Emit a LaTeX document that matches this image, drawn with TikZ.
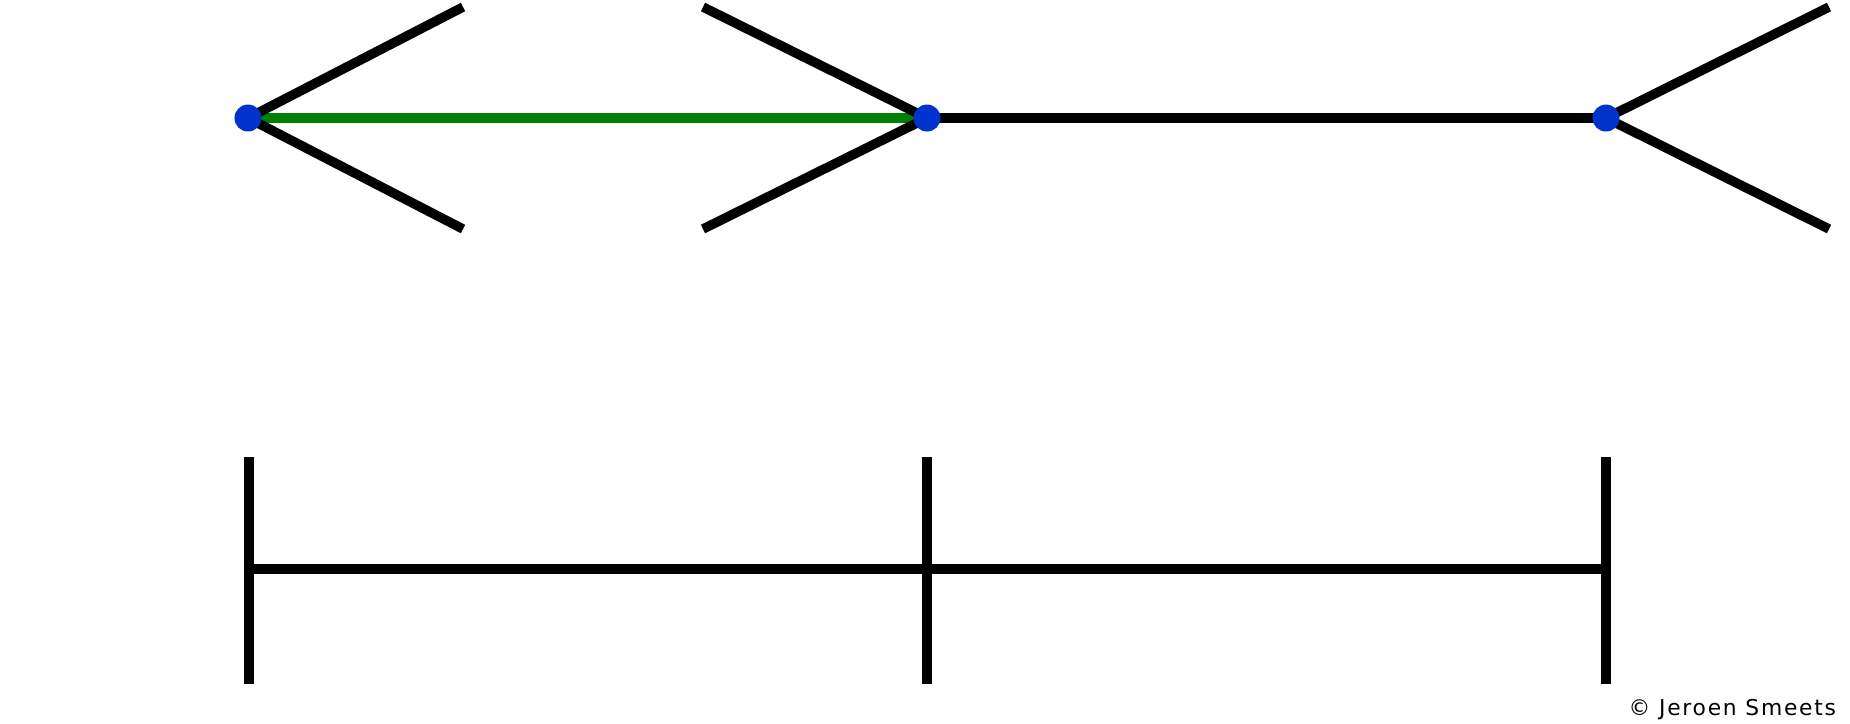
\documentclass[tikz,border=0pt]{standalone}
\usepackage{fontspec}
\usetikzlibrary{backgrounds}
\newfontfamily\creditfont[LetterSpace=8]{DejaVu Sans}
\definecolor{dotblue}{RGB}{0,51,204}
\definecolor{seggreen}{RGB}{0,128,0}

\begin{document}
\begin{tikzpicture}
[x=0.01cm,y=-0.01cm,%
  seg/.style={line width=0.095cm},%
  dot/.style={shape=circle,fill=dotblue,inner sep=0pt,minimum size=0.27cm},%
  credit/.style={anchor=base west,inner sep=0pt,font=\creditfont\fontsize{6.2}{7}\selectfont}]
\useasboundingbox (0,0) rectangle (1850,723);
% top row
\node[dot] (a) at (248,118) {};
\node[dot] (b) at (927,118) {};
\node[dot] (c) at (1606,118) {};
\coordinate (a1) at (463,7);
\coordinate (a2) at (463,229);
\coordinate (b1) at (703,7);
\coordinate (b2) at (703,229);
\coordinate (c1) at (1829,7);
\coordinate (c2) at (1829,229);
\begin{scope}[on background layer]
\draw[seg,seggreen] (a.center) -- (b.center);
\draw[seg] (b.center) -- (c.center);
\draw[seg] (a.center) -- (a1);
\draw[seg] (a.center) -- (a2);
\draw[seg] (b.center) -- (b1);
\draw[seg] (b.center) -- (b2);
\draw[seg] (c.center) -- (c1);
\draw[seg] (c.center) -- (c2);
\end{scope}
% bottom row
\coordinate (l) at (249,569);
\coordinate (m) at (927,569);
\coordinate (r) at (1606,569);
\coordinate (lt) at (249,457);
\coordinate (lb) at (249,684);
\coordinate (mt) at (927,457);
\coordinate (mb) at (927,684);
\coordinate (rt) at (1606,457);
\coordinate (rb) at (1606,684);
\draw[seg] (l) -- (r);
\draw[seg] (lt) -- (lb);
\draw[seg] (mt) -- (mb);
\draw[seg] (rt) -- (rb);
\node[credit] (credit) at (1628,715) {© Jeroen Smeets};
\end{tikzpicture}
\end{document}
